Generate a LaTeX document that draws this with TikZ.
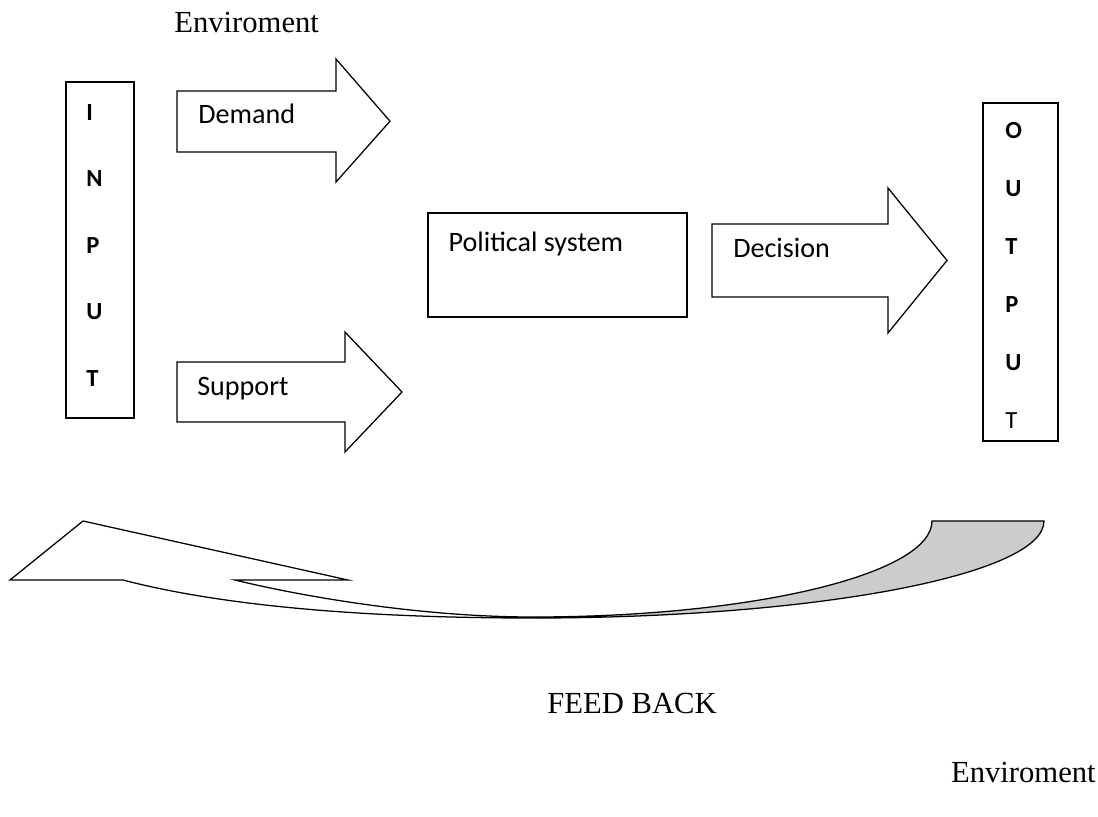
\documentclass[tikz,border=0pt]{standalone}
\usepackage{fontspec}
\setmainfont{Liberation Serif}
\newfontfamily\calibri{Carlito}
\usetikzlibrary{positioning}

\begin{document}
\begin{tikzpicture}[
            box/.style       ={rectangle, draw=black, line width=0.9pt, inner sep=0pt},
            letter/.style    ={font=\calibri\bfseries\fontsize{17.5}{20}\selectfont, inner sep=0pt,
                               text height=0.4cm, text depth=0pt, text width=0.45cm, align=left},
            tag/.style       ={font=\calibri\fontsize{20}{24}\selectfont, inner sep=0pt, anchor=base west},
            caption/.style   ={font=\fontsize{21.8}{26}\selectfont, inner sep=0pt},
            blockarrow/.style={draw=black, line width=0.9pt},
            ribbon/.style    ={draw=black, line width=0.9pt}
        ]
        \useasboundingbox (0,0) rectangle (27.45,-20.4);

        \node[caption, anchor=base west] (envtop)    at (4.35,-0.8)    {Enviroment};
        \node[caption, anchor=base east] (feedback)  at (17.925,-17.825) {FEED BACK};
        \node[caption, anchor=base east] (envbottom) at (27.4,-19.55)  {Enviroment};

        % input column
        \node[box, minimum width=1.7cm, minimum height=8.4cm] (input) at (2.5,-6.25) {};
        \node[letter, anchor=base west] (in1) at (2.15,-3.0) {I};
        \node[letter, below=1.25cm of in1] (in2) {N};
        \node[letter, below=1.25cm of in2] (in3) {P};
        \node[letter, below=1.25cm of in3] (in4) {U};
        \node[letter, below=1.25cm of in4] (in5) {T};

        % demand and support
        \draw[blockarrow] (4.425,-2.275) -- (8.4,-2.275) -- (8.4,-1.475) -- (9.75,-3.03)
                          -- (8.4,-4.55) -- (8.4,-3.8) -- (4.425,-3.8) -- cycle;
        \node[tag] (demand) at (4.95,-3.075) {Demand};
        \draw[blockarrow] (4.425,-9.05) -- (8.625,-9.05) -- (8.625,-8.3) -- (10.05,-9.8)
                          -- (8.625,-11.3) -- (8.625,-10.55) -- (4.425,-10.55) -- cycle;
        \node[tag] (support) at (4.925,-9.875) {Support};

        % the system itself
        \node[box, minimum width=6.475cm, minimum height=2.6cm] (polsys) at (13.9375,-6.625) {};
        \node[tag] (polsyslabel) at ([xshift=0.525cm, yshift=-0.975cm]polsys.north west) {Political system};

        \draw[blockarrow] (17.8,-5.6) -- (22.2,-5.6) -- (22.2,-4.7) -- (23.675,-6.51)
                          -- (22.2,-8.325) -- (22.2,-7.425) -- (17.8,-7.425) -- cycle;
        \node[tag] (decision) at (18.325,-6.425) {Decision};

        % output column
        \node[box, minimum width=1.875cm, minimum height=8.45cm] (output) at (25.5125,-6.8) {};
        \node[letter, anchor=base west] (out1) at (25.125,-3.45) {O};
        \node[letter, below=1.04cm of out1] (out2) {U};
        \node[letter, below=1.04cm of out2] (out3) {T};
        \node[letter, below=1.04cm of out3] (out4) {P};
        \node[letter, below=1.04cm of out4] (out5) {U};
        \node[letter, below=1.04cm of out5] (out6) {\mdseries T};

        % feedback ribbon: shaded back first, then the whole outline
        \fill[black!20] (23.3,-13.025) -- (26.1,-13.025)
              .. controls (26.1,-14.375) and (20.375,-15.45) .. (13.325,-15.45)
              -- (13.325,-15.425)
              .. controls (18.825,-15.425) and (23.3,-14.35) .. (23.3,-13.025) -- cycle;
        \draw[ribbon] (23.3,-13.025) -- (26.1,-13.025)
              .. controls (26.1,-14.375) and (20.375,-15.45) .. (13.325,-15.45)
              .. controls (9.5,-15.45) and (5.75,-15.2) .. (3.075,-14.5)
              -- (0.25,-14.5) -- (2.075,-13.025) -- (8.7,-14.5) -- (5.875,-14.5)
              .. controls (7.5,-14.9) and (10.5,-15.425) .. (13.325,-15.425)
              .. controls (18.825,-15.425) and (23.3,-14.35) .. (23.3,-13.025) -- cycle;
\end{tikzpicture}
\end{document}
